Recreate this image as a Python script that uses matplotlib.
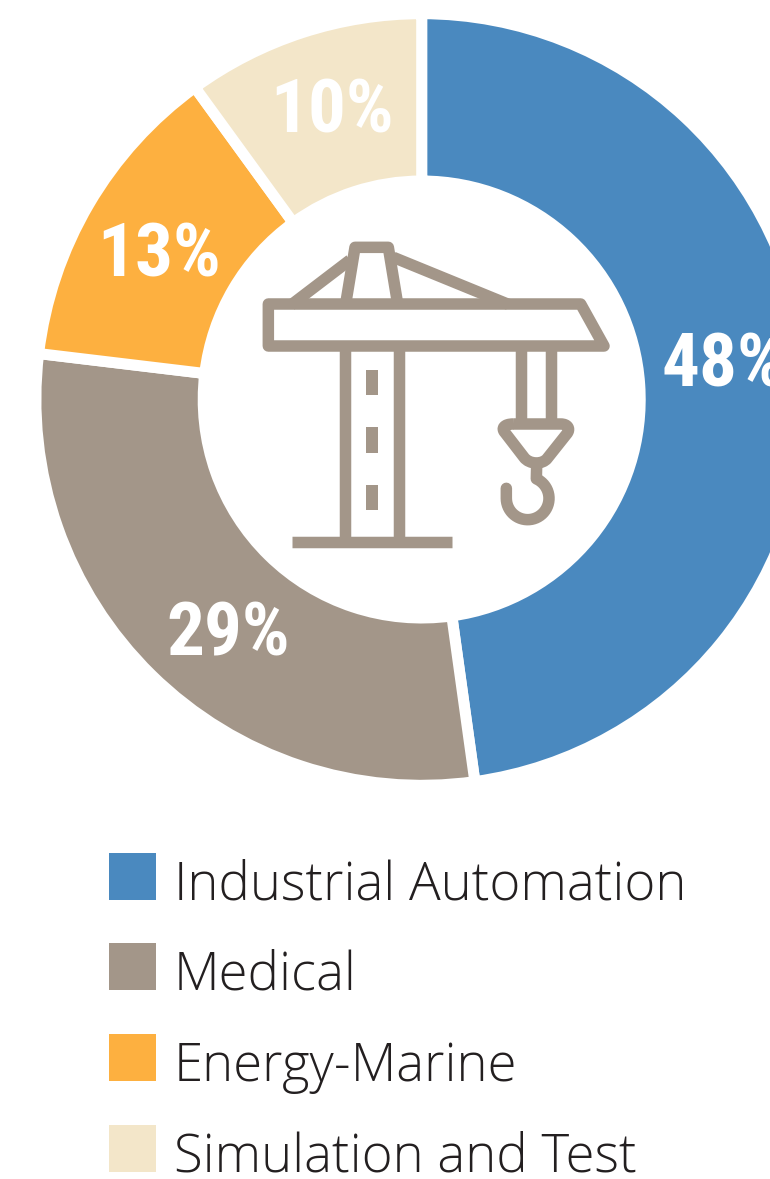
import numpy as np
import matplotlib
matplotlib.use('Agg')
import matplotlib.pyplot as plt
from matplotlib.path import Path
from matplotlib.patches import PathPatch, Rectangle

#chart values - wedges, labels as printed
categories = ['Industrial Automation', 'Medical', 'Energy-Marine', 'Simulation and Test']
shares = [47.8, 29.1, 13.1, 10.0]
share_labels = ['48%', '29%', '13%', '10%']
colors = ['#4A89BF', '#A39689', '#FDB040', '#F3E6C9']

W, H = 770, 1179
CX, CY = 421.7, H - 399.5
GAP = 11
icon_col = '#A39689'

fig = plt.figure(figsize=(W / 100, H / 100), dpi=100)
ax = fig.add_axes([0, 0, 1, 1])

#-------------------------------------
#donut - white edge makes the gaps
#-------------------------------------
r_out = 380.3 + GAP / 2
r_in = 224 - GAP / 2
lw = GAP * 72 / 100
ax.pie(shares, colors=colors, startangle=90, counterclock=False,
       center=(CX, CY), radius=r_out, frame=True,
       wedgeprops=dict(width=r_out - r_in, edgecolor='white', linewidth=lw))
ax.set_xlim(0, W)
ax.set_ylim(0, H)
ax.set_aspect('equal')
ax.set_axis_off()

#percent labels sit on the middle of the ring, with a small nudge each
nudges = [(0, 20), (18, -13), (-2, -2), (4, 7)]
mids = (np.cumsum(shares) - np.array(shares) / 2) / 100 * 2 * np.pi
for lab, m, n in zip(share_labels, mids, nudges):
    x = CX + 302 * np.sin(m) + n[0]
    y = CY + 302 * np.cos(m) + n[1]
    ax.text(x, y, lab, color='white', fontsize=54, fontweight='bold',
            family=['Roboto Condensed', 'Roboto'],
            ha='center', va='center_baseline')


#-------------------------------------
#crane icon - coordinates measured on the 3x crop of the reference
#-------------------------------------
def pt(zx, zy):
    return (250 + zx / 3, H - (230 + zy / 3))


def stroke(points, codes=None, closed=False, cap='butt'):
    verts = [pt(*p) for p in points]
    if codes is None:
        codes = [Path.MOVETO] + [Path.LINETO] * (len(verts) - 1)
    if closed:
        verts.append(verts[0])
        codes = list(codes) + [Path.CLOSEPOLY]
    ax.add_patch(PathPatch(Path(verts, codes), facecolor='none', edgecolor=icon_col,
                           linewidth=11.5 * 72 / 100, joinstyle='round', capstyle=cap))


#jib
stroke([(55, 222), (992, 222), (1062, 348), (55, 348)], closed=True)
#tower legs and foot
stroke([(285, 348), (285, 930)])
stroke([(448, 348), (448, 930)])
stroke([(127, 935), (605, 935)])
#cab on top of the jib
stroke([(287, 222), (315, 52), (415, 52), (443, 222)])
#stays
stroke([(123, 225), (300, 90)])
stroke([(430, 82), (775, 223)])
#hook cables
stroke([(814, 348), (814, 580)])
stroke([(902, 348), (902, 580)])
#hook block
C4 = Path.CURVE4
L = Path.LINETO
stroke([(790, 582), (932, 582), (955, 582), (962, 598), (950, 612), (892, 685),
        (878, 704), (838, 704), (822, 682), (765, 608), (753, 595), (762, 582), (790, 582)],
       codes=[Path.MOVETO, L, C4, C4, C4, L, C4, C4, C4, L, C4, C4, C4])
#hook
ang = np.radians(np.linspace(66, -180, 40))
arc = [(833 + 64 * np.cos(a), 805 - 64 * np.sin(a)) for a in ang]
stroke([(860, 705)] + arc + [(769, 775)], cap='round')
#tower dashes
for top, bot in [(420, 496), (592, 668), (765, 841)]:
    x0, y0 = pt(348, bot)
    x1, y1 = pt(383, top)
    ax.add_patch(Rectangle((x0, y0), x1 - x0, y1 - y0, facecolor=icon_col, edgecolor='none'))

#-------------------------------------
#legend
#-------------------------------------
swatch_tops = [853, 943, 1034, 1125]
for cat, col, top in zip(categories, colors, swatch_tops):
    ax.add_patch(Rectangle((109, H - top - 47), 47, 47, facecolor=col, edgecolor='none'))
    ax.text(174, H - top - 47, cat, color='#231F20', fontsize=38, family='Open Sans',
            fontweight='light', ha='left', va='baseline')

fig.savefig('out.png', dpi=100, facecolor='white')
